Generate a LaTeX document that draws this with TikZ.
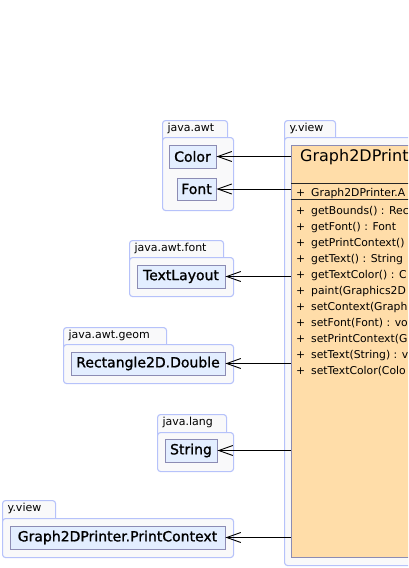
\documentclass[tikz,border=0pt]{standalone}
\usepackage{fontspec}
\setmainfont{DejaVu Sans}
\newfontfamily\reffont[FakeBold=1.2]{DejaVu Sans}
\usetikzlibrary{arrows.meta,positioning,calc}
\definecolor{pkgfill}{HTML}{F9F9FA}
\definecolor{pkgdraw}{HTML}{B6C2FA}
\definecolor{clsfill}{HTML}{FFDDA9}
\definecolor{clsdraw}{HTML}{8C8CB4}
\definecolor{reffill}{HTML}{E3EEFF}
\newcommand{\pub}{\makebox[15pt][l]{+}}
\tikzset{
  pkgbody/.style={
    draw=pkgdraw,
    fill=pkgfill,
    line width=1.1pt,
    rounded corners=3pt,
    anchor=north west,
    inner sep=0pt
  },
  pkgtab/.style={
    pkgbody,
    text width=#1,
    align=left,
    inner xsep=5pt,
    inner ysep=3pt,
    text height=8pt,
    text depth=10pt,
    font=\fontsize{11}{13}\selectfont
  },
  refbox/.style={
    draw=clsdraw,
    fill=reffill,
    line width=0.9pt,
    inner sep=0pt,
    minimum height=23pt,
    font=\reffont\fontsize{14}{16}\selectfont
  },
  classbox/.style={
    draw=clsdraw,
    fill=clsfill,
    line width=0.9pt,
    anchor=north west,
    inner sep=0pt
  },
  member/.style={font=\fontsize{10.8}{16}\selectfont, inner sep=0pt},
  sepline/.style={line width=0.9pt, black!85},
  dep/.style={-{Straight Barb[length=14pt,width=10pt]}, line width=0.9pt}
}

\begin{document}
\begin{tikzpicture}[x=1pt,y=-1pt]
\useasboundingbox (0,0) rectangle (408,568);
\clip (0,0) rectangle (408,568);

% packages
\node[pkgtab=55pt] (awtTab) at (162,120) {java.awt};
\node[pkgbody, minimum width=71pt, minimum height=73pt] (awtPkg) at (162,137) {};
\node[pkgtab=84pt] (fontTab) at (129,240) {java.awt.font};
\node[pkgbody, minimum width=104pt, minimum height=39pt] (fontPkg) at (129,257) {};
\node[pkgtab=93pt] (geomTab) at (63,327) {java.awt.geom};
\node[pkgbody, minimum width=170pt, minimum height=39pt] (geomPkg) at (63,344) {};
\node[pkgtab=59pt] (langTab) at (157,414) {java.lang};
\node[pkgbody, minimum width=76pt, minimum height=39pt] (langPkg) at (157,432) {};
\node[pkgtab=43pt] (viewTab) at (2,500) {y.view};
\node[pkgbody, minimum width=231pt, minimum height=39pt] (viewPkg) at (2,518) {};
\node[pkgtab=41pt] (mainTab) at (284,120) {y.view};
\node[pkgbody, minimum width=170pt, minimum height=428pt] (mainPkg) at (284,137) {};

% referenced classes
\node[refbox, minimum width=47pt] (color) at (192.5,156.5) {Color};
\node[refbox, minimum width=39pt, minimum height=22pt] (font) at (196.5,189) {Font};
\node[refbox, minimum width=88pt] (layout) at (181,276.5) {TextLayout};
\node[refbox, minimum width=154pt] (rect) at (148,363.5) {Rectangle2D.Double};
\node[refbox, minimum width=52pt] (string) at (191,450.5) {String};
\node[refbox, minimum width=215pt] (context) at (117.5,537.5) {Graph2DPrinter.PrintContext};

% the class
\node[classbox, minimum width=160pt, minimum height=412pt] (printer) at (291,145) {};
\node[font=\fontsize{16}{18}\selectfont, anchor=west, inner sep=0pt] (title) at (300,157) {Graph2DPrinter};
\draw[sepline] ($(printer.north west)+(0,38)$) -- ++(160,0);
\draw[sepline] ($(printer.north west)+(0,54)$) -- ++(160,0);
\node[member, anchor=base west] (attr) at (296,196) {\pub Graph2DPrinter.A};
\node[member, anchor=north west, align=left] (methods) at (296,206) {%
  \pub getBounds() : Rec\\
  \pub getFont() : Font\\
  \pub getPrintContext() : G\\
  \pub getText() : String\\
  \pub getTextColor() : C\\
  \pub paint(Graphics2D\\
  \pub setContext(Graph\\
  \pub setFont(Font) : vo\\
  \pub setPrintContext(G\\
  \pub setText(String) : v\\
  \pub setTextColor(Colo};

% dependencies
\draw[dep] (printer.west |- color) -- (color);
\draw[dep] (printer.west |- font) -- (font);
\draw[dep] (printer.west |- layout) -- (layout);
\draw[dep] (printer.west |- rect) -- (rect);
\draw[dep] (printer.west |- string) -- (string);
\draw[dep] (printer.west |- context) -- (context);
\end{tikzpicture}
\end{document}
